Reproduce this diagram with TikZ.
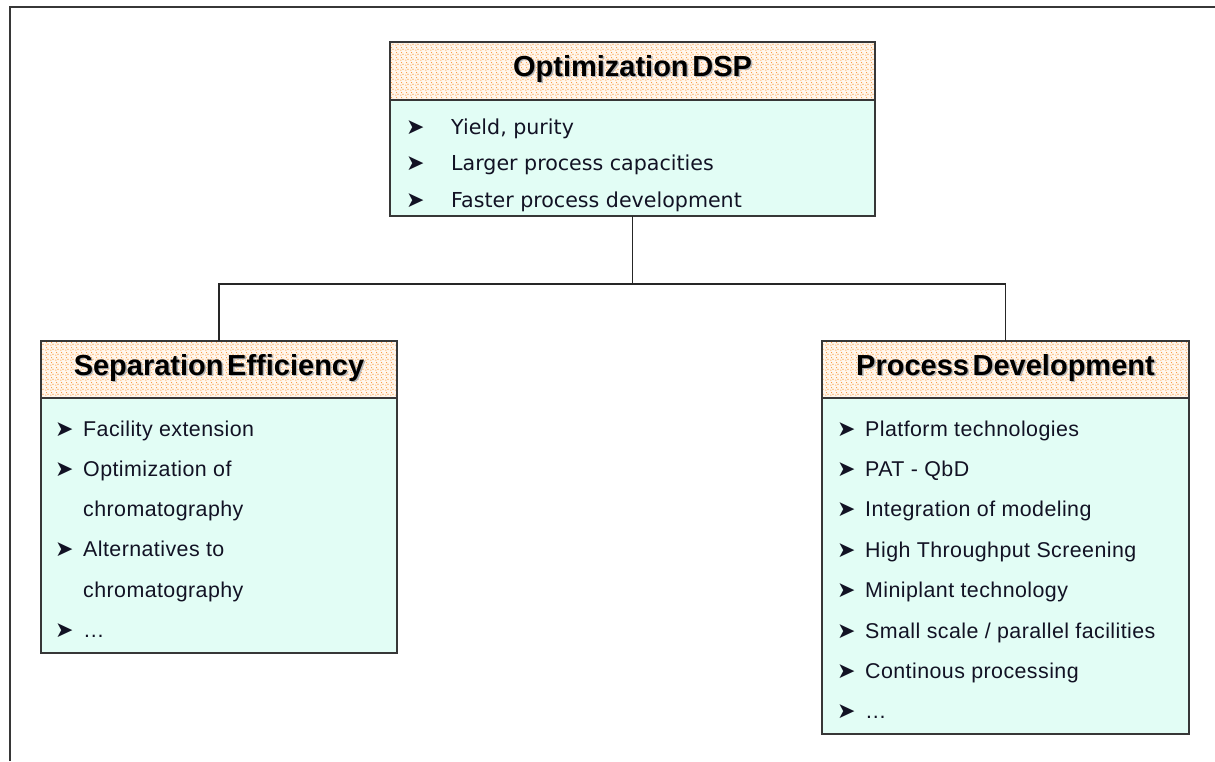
\documentclass[tikz,border=0pt]{standalone}
\usepackage{fontspec}
\usetikzlibrary{patterns}
\setmainfont{Liberation Sans}
\newfontfamily\headfont[WordSpace=0.45]{Liberation Sans}
\newfontfamily\itemfont[LetterSpace=2]{Liberation Sans}
\newfontfamily\topitemfont{DejaVu Sans}
\newfontfamily\symfont{DejaVu Sans}
\definecolor{framegray}{RGB}{55,55,55}
\definecolor{bodyfill}{RGB}{226,253,245}
\definecolor{headfill}{RGB}{255,246,236}
\definecolor{dotcolor}{RGB}{248,140,40}
\definecolor{inktext}{RGB}{18,18,36}
% speckled heading fill
\pgfdeclarepatternformonly{speckle}{\pgfpointorigin}{\pgfpoint{5pt}{5pt}}{\pgfpoint{5pt}{5pt}}{%
  \pgfpathcircle{\pgfpoint{1pt}{1pt}}{0.65pt}%
  \pgfpathcircle{\pgfpoint{3.6pt}{2.1pt}}{0.65pt}%
  \pgfpathcircle{\pgfpoint{1.9pt}{3.9pt}}{0.65pt}%
  \pgfusepath{fill}}
% arrowhead bullet and shadowed heading text
\newcommand{\bul}{{\symfont\fontsize{22}{22}\selectfont ➤}}
\newcommand{\shadowed}[1]{\makebox[0pt][l]{\hspace{1.4pt}\raisebox{-1.4pt}{\textcolor{black!30}{#1}}}#1}
\tikzset{
  box/.style={draw=framegray, line width=1.4pt, anchor=north west,
    inner sep=0pt, outer sep=0pt},
  headbox/.style={box, preaction={fill=headfill}, pattern=speckle,
    pattern color=dotcolor,
    font=\headfont\bfseries\fontsize{29}{29}\selectfont,
    text height=21pt, text depth=10pt},
  bodybox/.style={box, fill=bodyfill},
  items/.style={anchor=base west, inner sep=0pt, text=inktext},
  link/.style={draw=black!85, line width=1.3pt}
}
\begin{document}
\begin{tikzpicture}[x=1pt,y=-1pt]
  \useasboundingbox (0,0) rectangle (1215,761);
  % outer frame (top and left edges)
  \draw[draw=framegray, line width=1.6pt] (10,761) -- (10,7) -- (1215,7);

  % top box
  \node[headbox, minimum width=485pt, minimum height=58pt] (topH) at (390,42)
    {\shadowed{Optimization DSP}};
  \node[bodybox, minimum width=485pt, minimum height=116pt] (topB) at (topH.south west) {};
  \node[items, font=\topitemfont\fontsize{20.6}{36.5}\selectfont] (topT) at (406,134)
    {\begin{tabular}[t]{@{}p{45pt}@{}l@{}}
      \bul & Yield, purity\\
      \bul & Larger process capacities\\
      \bul & Faster process development
    \end{tabular}};

  % left box
  \node[headbox, minimum width=356pt, minimum height=57pt] (leftH) at (41,341)
    {\shadowed{Separation Efficiency}};
  \node[bodybox, minimum width=356pt, minimum height=255pt] (leftB) at (leftH.south west) {};
  \node[items, font=\itemfont\fontsize{21.4}{40.3}\selectfont] (leftT) at (55,436)
    {\begin{tabular}[t]{@{}p{28pt}@{}l@{}}
      \bul & Facility extension\\
      \bul & Optimization of\\
           & chromatography\\
      \bul & Alternatives to\\
           & chromatography\\
      \bul & …
    \end{tabular}};

  % right box
  \node[headbox, minimum width=367pt, minimum height=57pt] (rightH) at (822,341)
    {\shadowed{Process Development}};
  \node[bodybox, minimum width=367pt, minimum height=336pt] (rightB) at (rightH.south west) {};
  \node[items, font=\itemfont\fontsize{21.4}{40.4}\selectfont] (rightT) at (837,436)
    {\begin{tabular}[t]{@{}p{28pt}@{}l@{}}
      \bul & Platform technologies\\
      \bul & PAT - QbD\\
      \bul & Integration of modeling\\
      \bul & High Throughput Screening\\
      \bul & Miniplant technology\\
      \bul & Small scale / parallel facilities\\
      \bul & Continous processing\\
      \bul & …
    \end{tabular}};

  % connectors
  \coordinate (bus) at (topB.south |- 0,284);
  \draw[link] (topB.south) -- (bus);
  \draw[link] (leftH.north) |- (bus) -| (rightH.north);
\end{tikzpicture}
\end{document}
